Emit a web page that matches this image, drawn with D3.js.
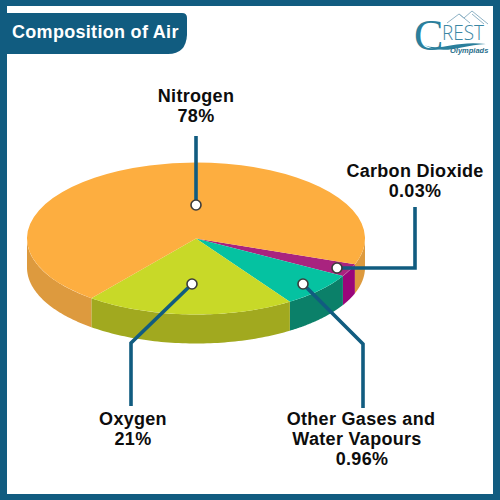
<!DOCTYPE html>
<html><head><meta charset="utf-8">
<script src="https://cdn.jsdelivr.net/npm/d3@7"></script>
<style>html,body{margin:0;padding:0;background:#fff}svg{display:block}text{font-family:"Liberation Sans",Arial,sans-serif}</style>
</head><body><svg id="c" width="500" height="500"></svg>
<script>
// Slice shares as drawn in the picture (share of the full turn, %)
const gases = ["Carbon Dioxide","Other Gases and Water Vapours","Oxygen","Nitrogen"];
const drawnShare = [2.7,7.4,20,69.9];
const topColors = ["#a9237f","#05c2a1","#c8d928","#fdae40"];
const sideColors = ["#99067a","#0b8069","#a1a91f","#dd9a3e"];
const labelLines = [["Carbon Dioxide","0.03%"],["Other Gases and","Water Vapours","0.96%"],["Oxygen","21%"],["Nitrogen","78%"]];
const title = "Composition of Air";
const frame = "#115c80";

const svg = d3.select("#c");
const cx=196, cy=238.5, rx=169, ry=76, depth=29;
// frame
svg.append("rect").attr("width",500).attr("height",500).attr("fill",frame);
svg.append("rect").attr("x",7).attr("y",6).attr("width",486).attr("height",488).attr("fill","#fff");
// title tab
const p=d3.path();p.moveTo(7,13);p.lineTo(182,13);p.quadraticCurveTo(187,13,187,18);p.lineTo(187,35);p.quadraticCurveTo(186,54,168,54);p.lineTo(7,54);p.closePath();
svg.append("path").attr("d",p.toString()).attr("fill",frame);
svg.append("text").attr("x",12).attr("y",38).attr("fill","#fff").attr("font-size",18).attr("font-weight",700).attr("letter-spacing",0.3).text(title);

// pie
const startDeg=109.9;
const pie=d3.pie().sort(null).startAngle(startDeg*Math.PI/180).endAngle((startDeg+360)*Math.PI/180);
const arcs=pie(drawnShare);
const sx=d3.scaleLinear().domain([-1,1]).range([cx-rx,cx+rx]);
const sy=d3.scaleLinear().domain([-1,1]).range([cy-ry,cy+ry]);
const visible=(a0,a1)=>{ // angles clockwise from 12 o'clock; front wall spans 90..270 deg
  const out=[];
  for(const k of [0,2*Math.PI]){
    const lo=Math.max(a0,Math.PI/2+k), hi=Math.min(a1,3*Math.PI/2+k);
    if(hi>lo) out.push([lo,hi]);
  }
  return out;
};
const wall=d3.area().x(a=>sx(Math.sin(a))).y0(a=>sy(-Math.cos(a))).y1(a=>sy(-Math.cos(a))+depth);
arcs.forEach((d,i)=>{
  visible(d.startAngle,d.endAngle).forEach(([lo,hi])=>{
    const n=60, pts=d3.range(n+1).map(j=>lo+(hi-lo)*j/n);
    svg.append("path").attr("d",wall(pts)).attr("fill",sideColors[i]);
  });
});
const arcGen=d3.arc().innerRadius(0).outerRadius(rx);
const g=svg.append("g").attr("transform",`translate(${cx},${cy}) scale(1,${ry/rx})`);
g.selectAll("path").data(arcs).join("path").attr("d",arcGen).attr("fill",(d,i)=>topColors[i]);

// leaders
const leaders=[
  [[337,268],[415,268],[415,207]],
  [[303,284],[363,344],[363,408]],
  [[192,284],[131,343],[131,406]],
  [[196,205],[196,136]]
];
const line=d3.line();
svg.selectAll("path.l").data(leaders).join("path").attr("class","l").attr("d",line).attr("fill","none").attr("stroke",frame).attr("stroke-width",3.6).attr("stroke-linejoin","miter");
svg.selectAll("circle.d").data(leaders).join("circle").attr("class","d").attr("cx",d=>d[0][0]).attr("cy",d=>d[0][1]).attr("r",5).attr("fill","#fff").attr("stroke","#3c3c3c").attr("stroke-width",1.6);

// labels: centre x per line, first baseline
const labelX=[[415,415],[361,357,362],[133,133],[196,196]];
const labelY=[177,425,425,102];
const lab=svg.selectAll("text.lab").data(labelLines).join("text").attr("class","lab").attr("text-anchor","middle").attr("font-size",18).attr("letter-spacing",0.3).attr("font-weight",700).attr("fill","#0d0d0d")
 .attr("y",(d,i)=>labelY[i]);
lab.each(function(d,i){
  d3.select(this).selectAll("tspan").data(d).join("tspan").attr("x",(t,j)=>labelX[i][j]).attr("dy",(t,j)=>j?20:0).text(t=>t);
});

// logo
const lg=svg.append("g");
lg.append("path").attr("d","M447 23 L459 14 L464 18 L472 11 L488 24 M459 14 L470 23 M472 14 L484 24").attr("fill","none").attr("stroke","#8fb3c6").attr("stroke-width",1);
lg.append("text").attr("x",414).attr("y",50).attr("font-size",44).style("font-family","'Liberation Serif'").attr("fill","#2b7f9c").text("C");
lg.append("text").attr("x",442).attr("y",40).attr("font-size",21).attr("font-weight",300).style("font-family","'Open Sans'").attr("textLength",42).attr("lengthAdjust","spacingAndGlyphs").attr("fill","#3a86a3").text("REST");
lg.append("path").attr("d","M424 45 C440 52 455 40 486 44 C460 45 445 56 424 45Z").attr("fill","#2b7f9c");
lg.append("text").attr("x",450).attr("y",53).attr("font-size",7.5).attr("font-style","italic").attr("font-weight",700).attr("fill","#2b6f8c").text("Olympiads");
</script></body></html>
